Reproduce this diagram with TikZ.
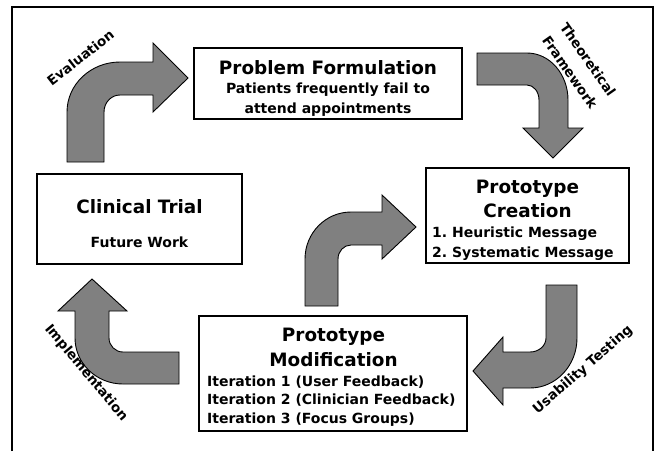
\documentclass[tikz,border=0pt]{standalone}
\usepackage{fontspec}
\setmainfont{DejaVu Sans}
\definecolor{arrowgray}{RGB}{128,128,128}
\usetikzlibrary{positioning}
\frenchspacing

\tikzset{
  stagebox/.style={draw, line width=1.3pt, fill=white, inner sep=0pt},
  bigtitle/.style={font=\fontsize{18.4}{22}\selectfont\bfseries, anchor=base, inner sep=0pt},
  smalltext/.style={font=\fontsize{14}{18}\selectfont\bfseries, anchor=base, inner sep=0pt},
  listline/.style={smalltext, anchor=base west},
  looplabel/.style={font=\fontsize{13.5}{22}\selectfont\bfseries, align=center, inner sep=0pt},
  blockarrow/.style={draw, line width=0.9pt, fill=arrowgray, line join=miter},
}

\begin{document}
\begin{tikzpicture}[x=1pt, y=-1pt]
\useasboundingbox (0,0) rectangle (663,451);
% outer frame, open at the bottom
\draw[line width=1.4pt] (12,451) -- (12,7) -- (653,7) -- (653,451);

% stage boxes
\node[stagebox, minimum width=268pt, minimum height=71pt] (problem) at (328,83.5) {};
\node[stagebox, minimum width=203pt, minimum height=95pt] (creation) at (527.5,215.5) {};
\node[stagebox, minimum width=268pt, minimum height=115pt] (modif) at (333,373.5) {};
\node[stagebox, minimum width=205pt, minimum height=90pt] (trial) at (139.5,219) {};

% box texts
\node[bigtitle] (problemtitle) at (328,74) {Problem Formulation};
\node[smalltext] (problemline1) at (328,93) {Patients frequently fail to};
\node[smalltext] (problemline2) at (328,113) {attend appointments};

\node[bigtitle] (creationtitle1) at (527.5,193) {Prototype};
\node[bigtitle] (creationtitle2) at (527.5,217) {Creation};
\node[listline] (heuristic) at (432,237) {1. Heuristic Message};
\node[listline] (systematic) at (432,257) {2. Systematic Message};

\node[bigtitle] (modiftitle1) at (333.5,341) {Prototype};
\node[bigtitle] (modiftitle2) at (333.5,366) {Modification};
\node[listline] (iter1) at (207,386) {Iteration 1 (User Feedback)};
\node[listline] (iter2) at (207,404.5) {Iteration 2 (Clinician Feedback)};
\node[listline] (iter3) at (207,423) {Iteration 3 (Focus Groups)};

\node[bigtitle] (trialtitle) at (139.5,213) {Clinical Trial};
\node[smalltext] (trialnote) at (139.5,247) {Future Work};

% bent block arrows
% evaluation: trial -> problem
\draw[blockarrow] (67,162) -- (67,112) arc[start angle=180, end angle=270, x radius=53, y radius=50]
  -- (153,62) -- (153,43) -- (188,78) -- (153,112) -- (153,95) -- (120,95)
  arc[start angle=270, end angle=180, x radius=16, y radius=17] -- (104,162) -- cycle;
% theoretical framework: problem -> creation
\draw[blockarrow] (477,53) -- (527,53) arc[start angle=270, end angle=360, x radius=41, y radius=47]
  -- (568,128) -- (583,128) -- (553,158) -- (523,128) -- (539,128) -- (539,100)
  arc[start angle=0, end angle=-90, x radius=12, y radius=15] -- (477,85) -- cycle;
% usability testing: creation -> modification
\draw[blockarrow] (546,285) -- (577,285) -- (577,338) arc[start angle=0, end angle=90, x radius=47, y radius=50]
  -- (503,388) -- (503,405) -- (473,371) -- (503,337) -- (503,352) -- (530,352)
  arc[start angle=90, end angle=0, x radius=16, y radius=14] -- cycle;
% modification -> creation
\draw[blockarrow] (305,306) -- (305,259) arc[start angle=180, end angle=270, x radius=46, y radius=47]
  -- (382,212) -- (382,195) -- (416,227) -- (382,259) -- (382,245) -- (351,245)
  arc[start angle=270, end angle=180, x radius=13, y radius=14] -- (338,306) -- cycle;
% implementation: modification -> trial
\draw[blockarrow] (179,352) -- (123,352) arc[start angle=90, end angle=180, x radius=14, y radius=14]
  -- (109,311) -- (127,311) -- (92,279) -- (58,311) -- (75,311) -- (75,338)
  arc[start angle=180, end angle=90, x radius=48, y radius=46] -- (179,384) -- cycle;

% arrow labels
\node[looplabel, rotate=38] (evallabel) at (80.5,57.5) {Evaluation};
\node[looplabel, rotate=-55] (theorylabel) at (579,66) {Theoretical\\Framework};
\node[looplabel, rotate=41] (usablabel) at (583,370) {Usability Testing};
\node[looplabel, rotate=-50] (implabel) at (86,373) {Implementation};
\end{tikzpicture}
\end{document}
